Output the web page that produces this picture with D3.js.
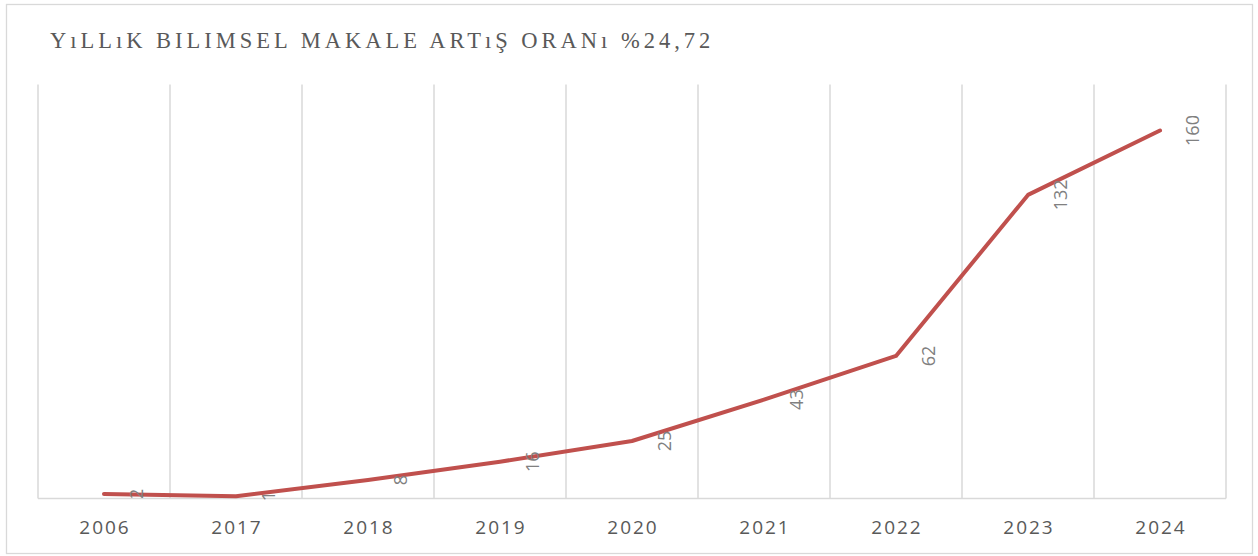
<!DOCTYPE html>
<html>
<head>
<meta charset="utf-8">
<script src="https://cdn.jsdelivr.net/npm/d3@7"></script>
<style>
  body { margin: 0; background: #fff; }
</style>
</head>
<body>
<script>
// chart data
const years = ["2006", "2017", "2018", "2019", "2020", "2021", "2022", "2023", "2024"];
const articles = [2, 1, 8, 16, 25, 43, 62, 132, 160];
const titleText = "YıLLıK BILIMSEL MAKALE ARTıŞ ORANı %24,72";

const width = 1258, height = 556;
const plot = { left: 38, right: 1226, top: 84.5, bottom: 498.5 };

const svg = d3.select("body").append("svg")
    .attr("width", width)
    .attr("height", height);

// outer chart frame
svg.append("rect")
    .attr("x", 6.5).attr("y", 4.5)
    .attr("width", 1246).attr("height", 549)
    .attr("fill", "#fff")
    .attr("stroke", "#d9d9d9")
    .attr("stroke-width", 1.3);

// title
svg.append("text")
    .attr("x", 50)
    .attr("y", 48)
    .attr("font-family", "'Liberation Serif', 'Times New Roman', serif")
    .attr("font-size", 22.5)
    .attr("letter-spacing", 4)
    .attr("fill", "#595959")
    .text(titleText);

// scales
const x = d3.scaleBand()
    .domain(years)
    .range([plot.left, plot.right])
    .padding(0);

const y = d3.scaleLinear()
    .domain([0, 180])
    .range([plot.bottom, plot.top]);

// vertical gridlines on category boundaries
const bounds = years.map(d => x(d)).concat([plot.right]);
svg.append("g")
    .selectAll("line")
    .data(bounds)
    .enter()
    .append("line")
    .attr("x1", d => d).attr("x2", d => d)
    .attr("y1", plot.top).attr("y2", plot.bottom)
    .attr("stroke", "#d9d9d9")
    .attr("stroke-width", 1.5);

// baseline
svg.append("line")
    .attr("x1", plot.left).attr("x2", plot.right)
    .attr("y1", plot.bottom).attr("y2", plot.bottom)
    .attr("stroke", "#d9d9d9")
    .attr("stroke-width", 1.5);

// x axis labels
svg.append("g")
    .selectAll("text")
    .data(years)
    .enter()
    .append("text")
    .attr("x", d => x(d) + x.bandwidth() / 2 + 1)
    .attr("y", 534)
    .attr("text-anchor", "middle")
    .attr("font-family", "'Open Sans', sans-serif")
    .attr("font-size", 19)
    .attr("letter-spacing", 2)
    .attr("fill", "#595959")
    .text(d => d);

// the line
const line = d3.line()
    .x((d, i) => x(years[i]) + x.bandwidth() / 2)
    .y(d => y(d));

svg.append("path")
    .datum(articles)
    .attr("d", line)
    .attr("fill", "none")
    .attr("stroke", "#c0504d")
    .attr("stroke-width", 4)
    .attr("stroke-linejoin", "round")
    .attr("stroke-linecap", "round");

// rotated data labels, right of each point
svg.append("g")
    .selectAll("text")
    .data(articles)
    .enter()
    .append("text")
    .attr("transform", (d, i) => {
        const px = x(years[i]) + x.bandwidth() / 2 + 33;
        return "translate(" + px + "," + y(d) + ") rotate(-90)";
    })
    .attr("text-anchor", "middle")
    .attr("dy", "0.35em")
    .attr("font-family", "'Open Sans', sans-serif")
    .attr("font-size", 18)
    .attr("fill", "#808080")
    .text(d => d);
</script>
</body>
</html>
